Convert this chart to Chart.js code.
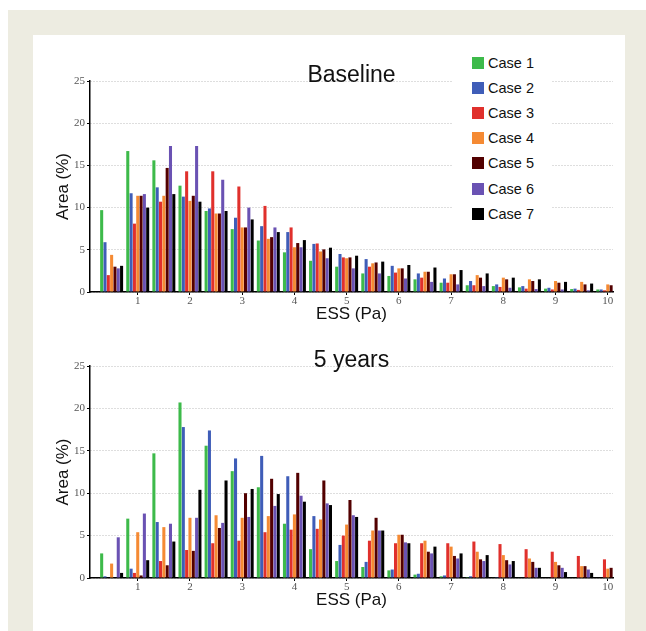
<!DOCTYPE html>
<html>
<head>
<meta charset="utf-8">
<script src="https://cdn.jsdelivr.net/npm/chart.js@4.4.1/dist/chart.umd.min.js"></script>
<style>
  body { margin: 0; width: 646px; height: 631px; position: relative; background: #fff; overflow: hidden; font-family: "Liberation Sans", Arial, sans-serif; }
  #frame { position: absolute; left: 8px; top: 10px; width: 638px; height: 621px; background: #edece1; }
  #panel { position: absolute; left: 33px; top: 35px; width: 592px; height: 596px; background: #fff; }
  canvas { position: absolute; left: 0; }
  #legend { position: absolute; left: 452px; top: 52px; width: 100px; height: 174px; background: #fff; }
  .item { position: absolute; left: 20px; height: 16px; font-size: 14.5px; line-height: 16px; color: #111; white-space: nowrap; }
  .item span { position: absolute; left: 0; top: 2px; width: 12px; height: 12px; }
  .item b { position: absolute; left: 16px; top: 0; font-weight: normal; }
</style>
</head>
<body>
<div id="frame"></div>
<div id="panel"></div>
<canvas id="baseline" width="646" height="330" style="top:0px"></canvas>
<canvas id="fiveYears" width="646" height="301" style="top:330px"></canvas>
<div id="legend"></div>

<script>
// ESS bins (Pa), each bar group is centred on the upper bin edge
const essBins = [0.5, 1, 1.5, 2, 2.5, 3, 3.5, 4, 4.5, 5, 5.5, 6, 6.5, 7, 7.5, 8, 8.5, 9, 9.5, 10];
const caseNames = ['Case 1', 'Case 2', 'Case 3', 'Case 4', 'Case 5', 'Case 6', 'Case 7'];
const caseColors = ['#3dba4a', '#3f5db8', '#e0302c', '#f58a33', '#520000', '#6a52b3', '#000000'];
const yTicks = [0, 5, 10, 15, 20, 25];
const xTicks = [1, 2, 3, 4, 5, 6, 7, 8, 9, 10];

// Baseline, area (%)
const baseCase1 = [9.7, 16.7, 15.6, 12.6, 9.6, 7.45, 6.1, 4.7, 3.7, 3.0, 2.2, 1.9, 1.5, 1.1, 0.8, 0.7, 0.55, 0.4, 0.35, 0.3];
const baseCase2 = [5.9, 11.7, 12.4, 11.3, 9.9, 8.8, 7.8, 7.1, 5.7, 4.5, 3.9, 3.1, 2.2, 1.6, 1.3, 0.9, 0.7, 0.5, 0.4, 0.3];
const baseCase3 = [2.0, 8.1, 10.7, 14.3, 14.3, 12.5, 10.2, 7.65, 5.75, 4.1, 3.0, 2.3, 1.7, 1.1, 0.8, 0.6, 0.4, 0.3, 0.25, 0.2];
const baseCase4 = [4.4, 11.4, 11.4, 10.8, 9.3, 7.65, 6.3, 5.3, 4.8, 4.0, 3.4, 2.8, 2.4, 2.1, 2.0, 1.7, 1.5, 1.3, 1.2, 0.9];
const baseCase5 = [3.0, 11.4, 14.7, 11.4, 9.3, 7.65, 6.5, 5.8, 5.05, 4.1, 3.5, 2.8, 2.4, 2.1, 1.7, 1.5, 1.3, 1.1, 0.9, 0.8];
const baseCase6 = [2.8, 11.6, 17.3, 17.3, 13.3, 10.0, 7.65, 5.3, 4.0, 2.8, 2.2, 1.6, 1.2, 0.9, 0.7, 0.5, 0.35, 0.3, 0.2, 0.2];
const baseCase7 = [3.1, 10.0, 11.6, 10.7, 9.6, 8.6, 7.1, 6.15, 5.25, 4.3, 3.6, 3.2, 2.9, 2.6, 2.2, 1.7, 1.5, 1.2, 1.0, 0.1];

// 5 years, area (%)
const yr5Case1 = [2.9, 7.0, 14.7, 20.7, 15.6, 12.6, 10.7, 6.4, 3.4, 2.0, 1.3, 0.9, 0.4, 0.2, 0.1, 0.05, 0.05, 0, 0, 0];
const yr5Case2 = [0.2, 1.1, 6.6, 17.8, 17.4, 14.1, 14.4, 12.0, 7.3, 3.9, 1.9, 1.0, 0.5, 0.3, 0.2, 0.1, 0.05, 0, 0, 0];
const yr5Case3 = [0, 0.6, 2.0, 3.3, 4.1, 4.4, 5.4, 5.7, 5.8, 5.0, 4.4, 4.1, 4.1, 4.1, 4.3, 4.0, 3.4, 3.1, 2.6, 2.2];
const yr5Case4 = [1.7, 5.4, 6.0, 7.1, 7.4, 7.1, 7.3, 7.5, 6.9, 6.3, 5.6, 5.1, 4.4, 3.7, 3.1, 2.7, 2.3, 1.9, 1.4, 1.1];
const yr5Case5 = [0, 0.3, 1.5, 3.2, 5.9, 10.0, 11.7, 12.4, 11.5, 9.2, 7.1, 5.1, 3.1, 2.6, 2.2, 2.1, 1.9, 1.5, 1.4, 1.2];
const yr5Case6 = [4.8, 7.6, 6.4, 7.1, 6.5, 7.2, 8.5, 9.7, 8.8, 7.4, 5.6, 4.2, 2.9, 2.3, 2.0, 1.6, 1.2, 1.2, 1.0, 0];
const yr5Case7 = [0.6, 2.1, 4.3, 10.4, 11.5, 10.5, 9.9, 9.0, 8.6, 7.2, 5.6, 4.1, 3.7, 2.9, 2.7, 2.0, 1.2, 0.7, 0.6, 0];

const baselineSeries = [baseCase1, baseCase2, baseCase3, baseCase4, baseCase5, baseCase6, baseCase7];
const fiveYearSeries = [yr5Case1, yr5Case2, yr5Case3, yr5Case4, yr5Case5, yr5Case6, yr5Case7];

// draws the panel heading just above the plot area
const panelTitle = {
  id: 'panelTitle',
  afterDraw(chart, args, opts) {
    const ctx = chart.ctx, a = chart.chartArea;
    ctx.save();
    ctx.font = '23px "Liberation Sans", Arial, sans-serif';
    ctx.fillStyle = '#111';
    ctx.textAlign = 'center';
    ctx.textBaseline = 'alphabetic';
    ctx.fillText(opts.text, (a.left + a.right) / 2, a.top + 1);
    ctx.restore();
  }
};

function makeChart(id, series, title, padTop, padBottom) {
  const ctx = document.getElementById(id).getContext('2d');
  return new Chart(ctx, {
    type: 'bar',
    data: {
      labels: essBins,
      datasets: series.map((vals, i) => ({
        label: caseNames[i],
        data: vals,
        backgroundColor: caseColors[i],
        borderWidth: 0,
        barPercentage: 0.92,
        categoryPercentage: 0.89
      }))
    },
    options: {
      responsive: false,
      animation: false,
      layout: { padding: { left: 0, right: 33, top: padTop, bottom: padBottom } },
      plugins: {
        legend: { display: false },
        tooltip: { enabled: false },
        panelTitle: { text: title }
      },
      scales: {
        x: {
          type: 'linear',
          min: 0.086,
          max: 10.1,
          offset: false,
          afterBuildTicks: s => { s.ticks = xTicks.map(v => ({ value: v })); },
          afterFit: s => { s.height = 38; },
          grid: { drawOnChartArea: false, tickLength: 3, tickColor: '#000', offset: false },
          border: { color: '#000', width: 1.5 },
          ticks: { font: { family: '"Liberation Serif", serif', size: 11 }, color: '#555', padding: 0, maxRotation: 0 },
          title: { display: true, text: 'ESS (Pa)', color: '#111', font: { family: '"Liberation Sans", Arial, sans-serif', size: 17 }, padding: { top: 0, bottom: 5 } }
        },
        y: {
          min: 0,
          max: 25,
          afterBuildTicks: s => { s.ticks = yTicks.map(v => ({ value: v })); },
          afterFit: s => { s.width = 90; },
          grid: { color: '#bdbdbd', tickColor: '#000', tickLength: 3, lineWidth: 1, tickBorderDash: [] },
          border: { color: '#000', width: 1.5, dash: [1, 2] },
          ticks: { font: { family: '"Liberation Serif", serif', size: 11 }, color: '#555', padding: 2 },
          title: { display: true, text: 'Area (%)', color: '#111', font: { family: '"Liberation Sans", Arial, sans-serif', size: 17 }, padding: { top: 53, bottom: 0 } }
        }
      }
    },
    plugins: [panelTitle]
  });
}

makeChart('baseline', baselineSeries, 'Baseline', 81, 0);
makeChart('fiveYears', fiveYearSeries, '5 years', 36, 15);

// legend for the top panel
const legend = document.getElementById('legend');
caseNames.forEach((name, i) => {
  const item = document.createElement('div');
  item.className = 'item';
  item.style.top = (3 + i * 25.1) + 'px';
  item.innerHTML = '<span style="background:' + caseColors[i] + '"></span><b>' + name + '</b>';
  legend.appendChild(item);
});
</script>
</body>
</html>
